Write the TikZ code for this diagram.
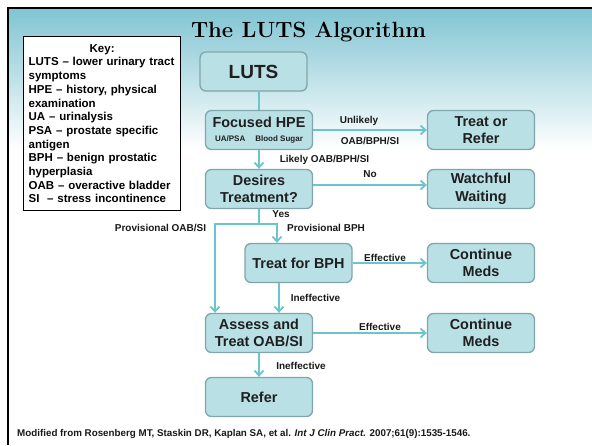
\documentclass[tikz,border=0pt]{standalone}
\usepackage{fontspec}
\newfontfamily\arialfont{Liberation Sans}
\usetikzlibrary{positioning,calc}
\usetikzlibrary{arrows.meta}
\definecolor{boxfill}{RGB}{185,224,228}
\definecolor{boxline}{RGB}{128,166,171}
\definecolor{arrowteal}{RGB}{108,197,204}
\definecolor{skyteal}{RGB}{128,196,210}
\definecolor{skymid}{RGB}{190,228,234}

\begin{document}
\begin{tikzpicture}[x=1pt, y=-1pt, >={Straight Barb[length=5pt,width=9pt]},
  flowbox/.style={draw=boxline, fill=boxfill, line width=1.3pt, rounded corners=6pt,
    minimum width=107pt, minimum height=39pt, align=center, inner sep=2pt, text=black!88,
    font=\arialfont\bfseries\fontsize{14.4}{17.5}\selectfont},
  link/.style={draw=arrowteal, line width=1.8pt},
  tag/.style={anchor=base, inner sep=0pt, text=black!90,
    font=\arialfont\bfseries\fontsize{10}{12}\selectfont}]
\useasboundingbox (0,0) rectangle (592,445);
\fill[white] (0,0) rectangle (592,445);
\shade[top color=skyteal, middle color=skymid, bottom color=white] (8,8) rectangle (592,150);
\draw[line width=2.2pt] (8,445) -- (8,8) -- (592,8);

\node[anchor=base, inner sep=0pt, font=\bfseries\fontsize{22}{26}\selectfont] (title) at (308.5,37) {The LUTS Algorithm};

\node[draw=black, fill=white, line width=1.3pt, anchor=north west, text width=147pt,
  minimum height=174pt, inner sep=5pt, align=left,
  font=\arialfont\bfseries\fontsize{11.5}{13.7}\selectfont] (key) at (23,36)
  {\makebox[\hsize]{Key:}\\
   LUTS – lower urinary tract\\ symptoms\\
   HPE – history, physical\\ examination\\
   UA – urinalysis\\
   PSA – prostate specific\\ antigen\\
   BPH – benign prostatic\\ hyperplasia\\
   OAB – overactive bladder\\
   SI~ – stress incontinence};

\node[flowbox, font=\arialfont\bfseries\fontsize{19}{22}\selectfont] (luts) at (253.5,71.5) {LUTS};
\node[flowbox] (hpe) at (259,130) {Focused HPE\\[-3pt]
  {\fontsize{8}{9}\selectfont UA/PSA\hspace{10pt}Blood Sugar}};
\node[flowbox] (desire) at (259,189) {Desires\\ Treatment?};
\node[flowbox] (treatref) at (481,130) {Treat or\\ Refer};
\node[flowbox] (watch) at (481,189) {Watchful\\ Waiting};
\node[flowbox] (bph) at (298.5,263) {Treat for BPH};
\node[flowbox] (medsa) at (481,263) {Continue\\ Meds};
\node[flowbox] (assess) at (259,333) {Assess and\\ Treat OAB/SI};
\node[flowbox] (medsb) at (481,333) {Continue\\ Meds};
\node[flowbox] (refer) at (259,397) {Refer};

\coordinate (split) at (259,224);
\coordinate (splitl) at (215,224);
\coordinate (splitr) at (277,224);

\draw[link] (hpe.north) -- (hpe.north |- luts.south);
\draw[link,->] (hpe.east) -- (treatref.west);
\draw[link,->] (hpe.south) -- (desire.north);
\draw[link,->] ([yshift=4pt]desire.east) -- ([yshift=4pt]watch.west);
\draw[link] (desire.south) -- (split);
\draw[link,->] (split) -- (splitl) -- (splitl |- assess.north);
\draw[link,->] (split) -- (splitr) -- (splitr |- bph.north);
\draw[link,->] (bph.east) -- (medsa.west);
\draw[link,->] ([xshift=-19.5pt]bph.south) -- ([xshift=-19.5pt]bph.south |- assess.north);
\draw[link,->] (assess.east) -- (medsb.west);
\draw[link,->] (assess.south) -- (refer.north);

\node[tag] (unlikely) at (359,123.6) {Unlikely};
\node[tag] (unlikelyb) at (370,144.3) {OAB/BPH/SI};
\node[tag] (likely) at (324.5,162.6) {Likely OAB/BPH/SI};
\node[tag] (no) at (370,177.6) {No};
\node[tag] (yes) at (281,217.6) {Yes};
\node[tag] (provoab) at (160.5,231.6) {Provisional OAB/SI};
\node[tag] (provbph) at (326,231.6) {Provisional BPH};
\node[tag] (effa) at (385,261) {Effective};
\node[tag] (ineffa) at (315.5,301.3) {Ineffective};
\node[tag] (effb) at (380,330) {Effective};
\node[tag] (ineffb) at (301,369.6) {Ineffective};

\node[anchor=base west, inner sep=0pt, text=black!90,
  font=\arialfont\bfseries\fontsize{9.8}{11}\selectfont] (source) at (17,436.5)
  {Modified from Rosenberg MT, Staskin DR, Kaplan SA, et al. \textit{Int J Clin Pract.} 2007;61(9):1535-1546.};
\end{tikzpicture}
\end{document}
